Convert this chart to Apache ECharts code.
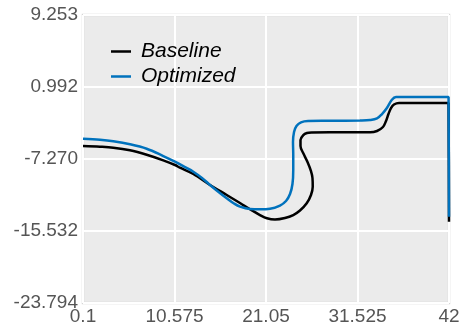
<!DOCTYPE html>
<html>
<head>
<meta charset="utf-8">
<script src="https://cdn.jsdelivr.net/npm/echarts@6/dist/echarts.min.js"></script>
<style>
  html, body { margin: 0; padding: 0; background: #ffffff; }
  #chart { width: 460px; height: 330px; }
</style>
</head>
<body>
<div id="chart"></div>
<script>
// Tick labels on both axes
const xTickLabels = ['0.1', '10.575', '21.05', '31.525', '42'];
const yTickLabels = ['-23.794', '-15.532', '-7.270', '0.992', '9.253'];
const xMin = 0.1, xMax = 42;
const yMin = -23.794, yMax = 9.253;

const seriesNames = ['Baseline', 'Optimized'];

// Baseline trace: x values and y values (the curve folds back around x = 25..26)
const baselineX = [0.10, 2.05, 3.57, 5.48, 7.39, 9.29, 10.63, 11.20, 12.73, 14.64, 16.55, 18.07, 19.22, 20.36, 21.16, 22.08, 23.22, 24.17, 24.94, 25.71, 26.20, 26.40, 26.37, 26.20, 25.80, 25.32, 25.00, 25.00, 25.32, 25.74, 26.28, 28.38, 32.96, 33.76, 34.44, 34.79, 35.07, 35.36, 35.70, 36.28, 41.95, 42.00, 42.00];
const baselineY = [-5.78, -5.86, -5.97, -6.27, -6.78, -7.42, -7.96, -8.27, -8.99, -10.25, -11.40, -12.32, -13.04, -13.70, -14.07, -14.21, -14.04, -13.70, -13.18, -12.35, -11.40, -10.45, -9.45, -8.65, -7.61, -6.62, -5.78, -5.09, -4.52, -4.29, -4.23, -4.21, -4.21, -4.06, -3.60, -2.91, -2.11, -1.42, -1.02, -0.84, -0.84, -0.84, -14.46];

// Optimized trace
const optimizedX = [0.10, 2.05, 3.57, 5.48, 7.39, 9.29, 10.63, 11.78, 12.73, 13.72, 14.64, 15.55, 16.55, 17.39, 18.07, 19.22, 20.36, 21.51, 22.65, 23.34, 23.80, 24.08, 24.17, 24.17, 24.14, 24.26, 24.54, 25.06, 25.86, 28.38, 31.81, 32.96, 33.76, 34.33, 34.87, 35.44, 35.93, 41.95, 42.00, 42.00];
const optimizedY = [-4.95, -5.07, -5.24, -5.58, -6.09, -6.93, -7.58, -8.20, -8.73, -9.45, -10.25, -11.00, -11.78, -12.38, -12.74, -13.01, -13.04, -12.98, -12.61, -12.09, -11.29, -10.14, -8.53, -6.81, -5.32, -4.17, -3.48, -3.06, -2.91, -2.89, -2.85, -2.80, -2.62, -2.11, -1.45, -0.50, -0.16, -0.16, -0.16, -13.89];

const colors = ['#000000', '#0072BD'];

// Axes run from 0 so that the interval ticks start at the axis minimum;
// points are shifted by the minimum and labels are taken from the arrays above.
const xStep = (xMax - xMin) / (xTickLabels.length - 1);
const yStep = (yMax - yMin) / (yTickLabels.length - 1);
const toPairs = (xs, ys) => xs.map((x, i) => [x - xMin, ys[i] - yMin]);

const chart = echarts.init(document.getElementById('chart'), null, { renderer: 'canvas' });

const axisText = { color: '#555555', fontSize: 19, fontFamily: 'Liberation Sans, Arial, sans-serif' };

function lineSeries(i, xs, ys) {
  return {
    name: seriesNames[i],
    type: 'line',
    data: toPairs(xs, ys),
    showSymbol: false,
    symbol: 'none',
    smooth: 0.35,
    lineStyle: { color: colors[i], width: 2.5 },
    itemStyle: { color: colors[i] }
  };
}

chart.setOption({
  animation: false,
  backgroundColor: '#ffffff',
  grid: {
    left: 83, right: 11, top: 15, bottom: 27,
    show: true,
    backgroundColor: '#EBEBEB',
    borderColor: '#D6D6D6',
    borderWidth: 2.5,
    containLabel: false,
    outerBoundsMode: 'none'
  },
  legend: {
    orient: 'vertical',
    left: 106,
    top: 34,
    itemWidth: 20,
    itemHeight: 2.5,
    itemGap: 0,
    icon: 'rect',
    data: seriesNames,
    textStyle: {
      color: '#000000',
      fontSize: 21,
      fontStyle: 'italic',
      fontFamily: 'Liberation Sans, Arial, sans-serif',
      lineHeight: 25,
      padding: [0, 0, 0, 5]
    }
  },
  xAxis: {
    type: 'value',
    min: 0,
    max: xMax - xMin,
    interval: xStep,
    axisLine: { show: false },
    axisTick: { show: false },
    splitLine: { show: true, lineStyle: { color: '#ffffff', width: 2 } },
    axisLabel: Object.assign({
      margin: 4,
      showMinLabel: true,
      showMaxLabel: true,
      formatter: v => xTickLabels[Math.round(v / xStep)]
    }, axisText)
  },
  yAxis: {
    type: 'value',
    min: 0,
    max: yMax - yMin,
    interval: yStep,
    axisLine: { show: false },
    axisTick: { show: false },
    splitLine: { show: true, lineStyle: { color: '#ffffff', width: 2 } },
    axisLabel: Object.assign({
      margin: 5,
      showMinLabel: true,
      showMaxLabel: true,
      formatter: v => yTickLabels[Math.round(v / yStep)]
    }, axisText)
  },
  series: [
    lineSeries(0, baselineX, baselineY),
    lineSeries(1, optimizedX, optimizedY)
  ]
});
</script>
</body>
</html>
